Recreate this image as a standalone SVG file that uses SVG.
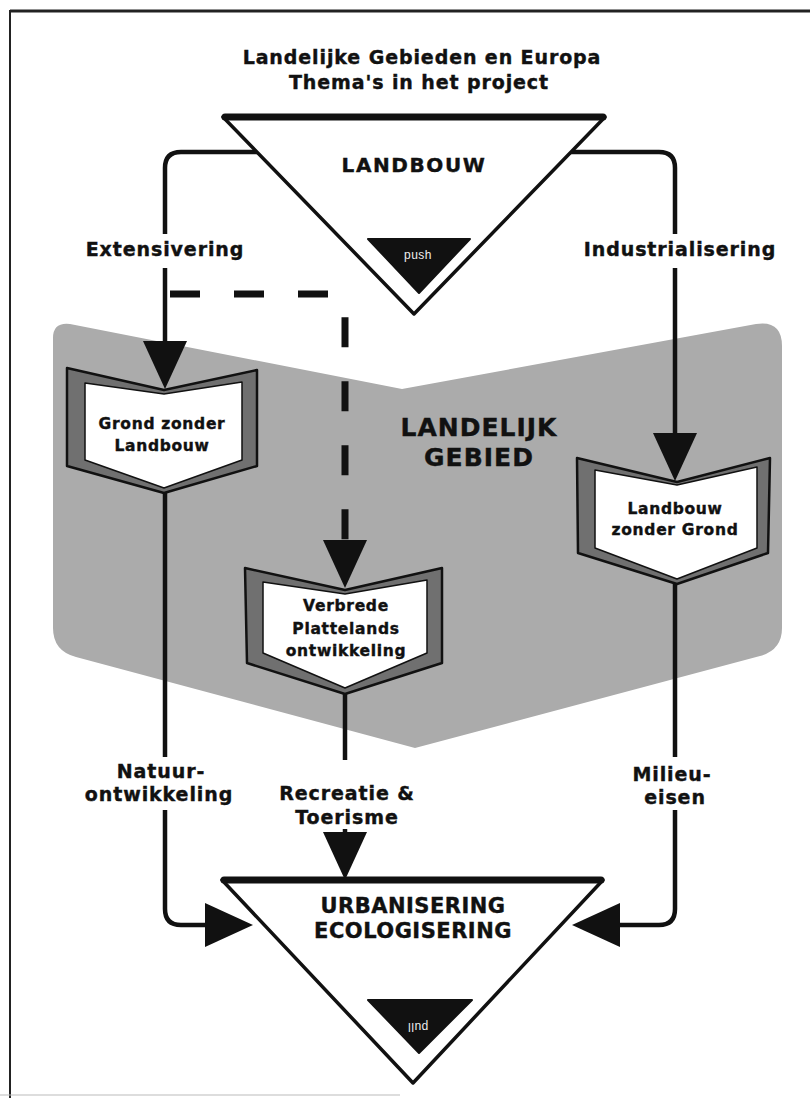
<svg xmlns="http://www.w3.org/2000/svg" width="810" height="1098" viewBox="0 0 810 1098">
<style>
  text { font-family: "DejaVu Sans", "Liberation Sans", sans-serif; font-weight: bold; fill: #111; stroke: #111; stroke-width: 0.4; text-anchor: middle; }
  .lbl { font-size: 19px; letter-spacing: 0.9px; }
  .node-t { font-size: 15.5px; letter-spacing: 0.7px; }
  .big { font-size: 25px; letter-spacing: 1px; }
  .tri-t { font-size: 21px; letter-spacing: 0.5px; }
  .conn { fill: none; stroke: #111; stroke-width: 4.5; stroke-linecap: butt; stroke-linejoin: round; }
  .dash { fill: none; stroke: #111; stroke-width: 7; stroke-dasharray: 30 34; }
  .frame-outer { fill: #707070; stroke: #111; stroke-width: 2.5; stroke-linejoin: round; }
  .frame-inner { fill: #fff; stroke: #111; stroke-width: 1.5; stroke-linejoin: round; }
  .tri { fill: #fff; stroke: #111; stroke-width: 3.5; stroke-linejoin: round; }
  .tri-top { stroke: #111; stroke-width: 7; stroke-linecap: round; }
  .blk { fill: #111; stroke: #111; stroke-width: 2; stroke-linejoin: round; }
  .small { font-family: "Liberation Sans", sans-serif; font-weight: normal; font-size: 12px; fill: #eee; stroke: none; letter-spacing: 0.5px; }
</style>
<defs>
  <marker id="arrow" markerUnits="userSpaceOnUse" viewBox="0 0 48 44" markerWidth="48" markerHeight="44" refX="0" refY="22" orient="auto">
    <path d="M0,0 L48,22 L0,44 Z" fill="#111"/>
  </marker>
</defs>

<rect x="0" y="0" width="810" height="1098" fill="#fff"/>

<!-- outer frame -->
<g id="frame">
  <line x1="10" y1="11" x2="810" y2="11" stroke="#222" stroke-width="3"/>
  <line x1="10" y1="10" x2="10" y2="1098" stroke="#222" stroke-width="2"/>
  <line x1="0" y1="1095" x2="400" y2="1095" stroke="#bbb" stroke-width="1"/>
</g>

<!-- landelijk gebied background -->
<g id="landelijk-gebied">
  <path d="M53,338 Q53,322 70,324 L402,389 L756,324 Q782,320 782,346 L782,628 Q782,650 760,656 L415,748 L76,657 Q53,651 53,628 Z" fill="#ababab"/>
  <text class="big" x="479" y="436">LANDELIJK</text>
  <text class="big" x="479" y="466">GEBIED</text>
</g>

<!-- connectors -->
<g id="connectors">
  <path class="conn" d="M300,152 H181 Q165,152 165,168 V234"/>
  <path class="conn" d="M165,268 V341" marker-end="url(#arrow)"/>
  <path class="dash" d="M170,294 H329 Q345,294 345,310 V540" marker-end="url(#arrow)"/>
  <path class="conn" d="M530,152 H659 Q675,152 675,168 V234"/>
  <path class="conn" d="M675,268 V433" marker-end="url(#arrow)"/>
  <path class="conn" d="M165,493 V757"/>
  <path class="conn" d="M165,810 V909 Q165,925 181,925 H205" marker-end="url(#arrow)"/>
  <path class="conn" d="M345,694 V760"/>
  <path class="conn" d="M345,829 V832" marker-end="url(#arrow)"/>
  <path class="conn" d="M675,584 V757"/>
  <path class="conn" d="M675,810 V909 Q675,925 659,925 H620" marker-end="url(#arrow)"/>
</g>

<!-- labels -->
<g id="labels">
  <text class="lbl" x="165" y="256">Extensivering</text>
  <text class="lbl" x="680" y="256">Industrialisering</text>
  <text class="lbl" x="161" y="778">Natuur-</text>
  <text class="lbl" x="159" y="801">ontwikkeling</text>
  <text class="lbl" x="347" y="800">Recreatie &amp;</text>
  <text class="lbl" x="347" y="824">Toerisme</text>
  <text class="lbl" x="672" y="781">Milieu-</text>
  <text class="lbl" x="675" y="804">eisen</text>
</g>

<!-- title -->
<g id="title">
  <text class="lbl" x="422" y="64">Landelijke Gebieden en Europa</text>
  <text class="lbl" x="419" y="89">Thema's in het project</text>
</g>

<!-- top triangle: LANDBOUW -->
<g id="landbouw">
  <path class="tri" d="M223,117 L605,117 L414,314 Z"/>
  <line class="tri-top" x1="225" y1="117" x2="603" y2="117"/>
  <text class="tri-t" x="414" y="172" style="font-size:20px;letter-spacing:1.6px">LANDBOUW</text>
  <path class="blk" d="M368,239 L470,239 L419,293 Z"/>
  <text class="small" x="418" y="259">push</text>
</g>

<!-- Grond zonder Landbouw -->
<g id="grond-zonder-landbouw">
  <polygon class="frame-outer" points="67,368 164,390 257,370 257,466 164,493 67,466"/>
  <polygon class="frame-inner" points="85,383 164,394 242,382 242,460 164,488 85,460"/>
  <text class="node-t" x="162" y="429">Grond zonder</text>
  <text class="node-t" x="162" y="451">Landbouw</text>
</g>

<!-- Verbrede Plattelands ontwikkeling -->
<g id="verbrede-plattelands-ontwikkeling">
  <polygon class="frame-outer" points="245,568 345,590 442,568 442,663 345,694 247,663"/>
  <polygon class="frame-inner" points="263,582 345,594 427,580 427,653 345,688 263,653"/>
  <text class="node-t" x="346" y="611">Verbrede</text>
  <text class="node-t" x="346" y="634">Plattelands</text>
  <text class="node-t" x="346" y="656">ontwikkeling</text>
</g>

<!-- Landbouw zonder Grond -->
<g id="landbouw-zonder-grond">
  <polygon class="frame-outer" points="577,458 677,482 770,458 768,553 677,584 578,553"/>
  <polygon class="frame-inner" points="595,470 677,485 757,467 757,548 677,579 595,548"/>
  <text class="node-t" x="675" y="514">Landbouw</text>
  <text class="node-t" x="675" y="535">zonder Grond</text>
</g>

<!-- bottom triangle: URBANISERING ECOLOGISERING -->
<g id="urbanisering-ecologisering">
  <path class="tri" d="M222,880 L603,880 L413,1083 Z"/>
  <line class="tri-top" x1="224" y1="880" x2="601" y2="880"/>
  <text class="tri-t" x="413" y="913">URBANISERING</text>
  <text class="tri-t" x="413" y="938">ECOLOGISERING</text>
  <path class="blk" d="M368,1000 L472,1000 L419,1053 Z"/>
  <text class="small" x="418" y="1015" transform="rotate(180 418 1019)">pull</text>
</g>
</svg>
